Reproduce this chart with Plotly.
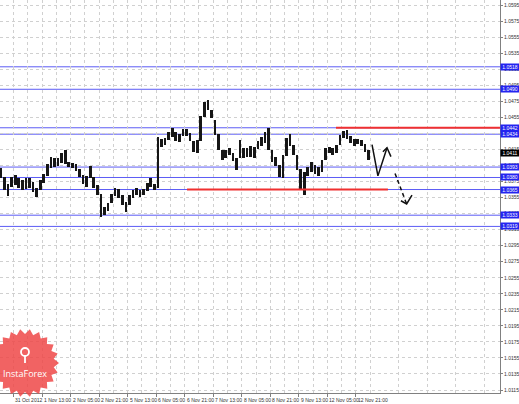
import math
import plotly.graph_objects as go

# ---------------- data ----------------
# H1 bars, index 0 = 31 Oct 21:00; one sample every 2 bars
bar_start = -7
bar_step = 2
price_high = [1.0392,1.0381,1.0372,1.0381,1.0383,1.0379,1.0377,1.0379,1.0379,1.0374,
              1.0367,1.0377,1.0384,1.0397,1.0406,1.0404,1.0404,1.0411,1.0414,1.0399,
              1.0398,1.0397,1.0391,1.0383,1.0382,1.0394,1.0381,1.0371,1.0360,1.0343,
              1.0348,1.0359,1.0367,1.0366,1.0358,1.0349,1.0358,1.0364,1.0367,1.0364,
              1.0366,1.0373,1.0379,1.0372,1.0431,1.0428,1.0429,1.0437,1.0442,1.0437,
              1.0434,1.0441,1.0441,1.0436,1.0426,1.0427,1.0457,1.0474,1.0477,1.0464,
              1.0452,1.0434,1.0414,1.0414,1.0417,1.0411,1.0404,1.0427,1.0417,1.0417,
              1.0419,1.0418,1.0426,1.0431,1.0437,1.0442,1.0414,1.0406,1.0396,1.0408,
              1.0429,1.0434,1.0421,1.0408,1.0390,1.0387,1.0393,1.0399,1.0396,1.0393,
              1.0402,1.0417,1.0418,1.0417,1.0421,1.0433,1.0438,1.0439,1.0432,1.0428,
              1.0428,1.0427,1.0422,1.0414]
price_low = [1.0379,1.0364,1.0357,1.0368,1.0371,1.0367,1.0364,1.0366,1.0367,1.0362,
             1.0356,1.0364,1.0373,1.0382,1.0392,1.0393,1.0394,1.0398,1.0397,1.0393,
             1.0392,1.0388,1.0381,1.0372,1.0368,1.0379,1.0367,1.0358,1.0331,1.0333,
             1.0338,1.0348,1.0357,1.0354,1.0346,1.0337,1.0346,1.0354,1.0358,1.0356,
             1.0358,1.0363,1.0368,1.0364,1.0367,1.0418,1.0421,1.0427,1.0431,1.0426,
             1.0424,1.0432,1.0432,1.0426,1.0412,1.0411,1.0425,1.0456,1.0464,1.0454,
             1.0433,1.0414,1.0402,1.0404,1.0408,1.0401,1.0389,1.0404,1.0404,1.0406,
             1.0406,1.0404,1.0416,1.0419,1.0423,1.0414,1.0399,1.0394,1.0381,1.0379,
             1.0407,1.0419,1.0408,1.0389,1.0364,1.0358,1.0382,1.0387,1.0384,1.0382,
             1.0387,1.0402,1.0411,1.0408,1.0411,1.0420,1.0429,1.0428,1.0423,1.0419,
             1.0422,1.0419,1.0412,1.0402]

x_tick_vals = [0, 16, 32, 48, 64, 80, 96, 112, 128, 144, 160, 176, 192]
x_tick_labels = ["31 Oct 2012", "1 Nov 13:00", "2 Nov 05:00", "2 Nov 21:00",
                 "5 Nov 13:00", "6 Nov 05:00", "6 Nov 21:00", "7 Nov 13:00",
                 "8 Nov 05:00", "8 Nov 21:00", "9 Nov 13:00", "12 Nov 05:00",
                 "12 Nov 21:00"]

blue_levels = [1.0518, 1.0490, 1.0442, 1.0434, 1.0393, 1.0380, 1.0365, 1.0333, 1.0319]
current_price = 1.0411
red_levels = [1.0442, 1.0365]
red_x_start = [180.8, 97.3]
red_x_end = [272.7, 209.9]

# hand-drawn forecast arrows (bar index, price)
zig_x = [201.0, 204.3, 209.4, None, 207.1, 209.4, 211.6]
zig_y = [1.0421, 1.0382, 1.0417, None, 1.0412, 1.0417, 1.0406]
dash_x = [213.9, 220.4]
dash_y = [1.0385, 1.0347]
dash_head_x = [217.2, 220.4, 223.4]
dash_head_y = [1.0351, 1.0347, 1.0358]

X_RANGE = [-7.54, 272.73]
Y_RANGE = [1.01113, 1.06013]

# ---------------- figure ----------------
xs = [bar_start + bar_step * k for k in range(len(price_high))]
fig = go.Figure()
fig.add_trace(go.Bar(x=xs, base=price_low,
                     y=[h - l for h, l in zip(price_high, price_low)],
                     width=1.5, marker=dict(color="#161616", line=dict(width=0)),
                     hoverinfo="skip"))
fig.add_trace(go.Scatter(x=zig_x, y=zig_y, mode="lines",
                         line=dict(color="#111111", width=1.5), hoverinfo="skip"))
fig.add_trace(go.Scatter(x=dash_x, y=dash_y, mode="lines",
                         line=dict(color="#111111", width=1.5, dash="4px,3px"), hoverinfo="skip"))
fig.add_trace(go.Scatter(x=dash_head_x, y=dash_head_y, mode="lines",
                         line=dict(color="#111111", width=1.5), hoverinfo="skip"))

shapes = []
for lv in blue_levels:
    shapes.append(dict(type="line", xref="paper", x0=0, x1=1, yref="y", y0=lv, y1=lv,
                       line=dict(color="#5c5cf5", width=1), layer="below"))
for lv, xa, xb in zip(red_levels, red_x_start, red_x_end):
    shapes.append(dict(type="line", xref="x", x0=xa, x1=xb, yref="y", y0=lv, y1=lv,
                       line=dict(color="#f03030", width=2), layer="above"))

# InstaForex logo (decoration), built in pixel space of the 500x393 plot area
PW, PH = 500.0, 393.0
cx, cy, r_out, r_in, n = 25.0, 363.0, 34.0, 29.0, 22
pts = []
for j in range(2 * n):
    r = r_out if j % 2 == 0 else r_in
    a = math.pi * j / n
    px = cx + r * math.cos(a)
    py = cy + r * math.sin(a)
    pts.append((px / PW, (PH - py) / PH))
path = "M " + " L ".join(f"{p[0]:.5f},{p[1]:.5f}" for p in pts) + " Z"
shapes.append(dict(type="path", xref="paper", yref="paper", path=path,
                   fillcolor="rgba(238,72,72,0.85)", line=dict(width=0), layer="above"))
shapes.append(dict(type="circle", xref="paper", yref="paper",
                   x0=(cx - 4) / PW, x1=(cx + 4) / PW,
                   y0=(PH - 356) / PH, y1=(PH - 348) / PH,
                   line=dict(color="white", width=1.8), layer="above"))
shapes.append(dict(type="line", xref="paper", yref="paper",
                   x0=cx / PW, x1=cx / PW, y0=(PH - 356) / PH, y1=(PH - 363) / PH,
                   line=dict(color="white", width=1.8), layer="above"))

annotations = []
for lv in blue_levels:
    annotations.append(dict(xref="paper", x=1.0, xanchor="left", yref="y", y=lv,
                            yanchor="middle", text=f"{lv:.4f}", showarrow=False,
                            font=dict(size=5, color="white", family="Liberation Sans"),
                            bgcolor="#2424f0", width=18, height=6, borderpad=0))
annotations.append(dict(xref="paper", x=1.0, xanchor="left", yref="y", y=current_price,
                        yanchor="middle", text=f"{current_price:.4f}", showarrow=False,
                        font=dict(size=5, color="white", family="Liberation Sans"),
                        bgcolor="#000000", width=18, height=6, borderpad=0))
for tv, tl in zip(x_tick_vals, x_tick_labels):
    annotations.append(dict(xref="x", x=tv, xanchor="left", yref="paper",
                            y=(PH - 399.5) / PH, yanchor="middle", text=tl, showarrow=False,
                            font=dict(size=5, color="#333333", family="Liberation Sans")))
annotations.append(dict(xref="paper", x=cx / PW, xanchor="center", yref="paper",
                        y=(PH - 373) / PH, yanchor="middle", text="InstaForex",
                        showarrow=False, font=dict(size=9, color="white", family="Open Sans")))

fig.update_layout(
    width=519, height=404,
    margin=dict(l=0, r=19, t=0, b=11, autoexpand=False),
    plot_bgcolor="white", paper_bgcolor="white",
    showlegend=False, bargap=0,
    shapes=shapes, annotations=annotations,
    xaxis=dict(range=X_RANGE, tickmode="array", tickvals=x_tick_vals,
               showticklabels=False, ticks="outside", ticklen=3, tickcolor="#808080",
               showgrid=True, gridcolor="#d0d0d0", griddash="dot", gridwidth=1,
               minor=dict(tickmode="linear", tick0=8, dtick=16, showgrid=True,
                          gridcolor="#d0d0d0", griddash="dot", ticks=""),
               showline=True, linecolor="#808080", linewidth=1, zeroline=False,
               fixedrange=True),
    yaxis=dict(range=Y_RANGE, side="right", tickmode="linear", tick0=1.0115, dtick=0.002,
               tickformat=".4f", tickfont=dict(size=5, color="#333333", family="Liberation Sans"),
               ticks="outside", ticklen=2, tickcolor="#808080",
               showgrid=True, gridcolor="#d0d0d0", griddash="dot", gridwidth=1,
               showline=True, linecolor="#808080", linewidth=1, zeroline=False,
               fixedrange=True),
)

fig.write_html("out.html", config={"displayModeBar": False},
               post_script="document.body.style.margin='0';document.body.style.padding='0';"
                           "document.documentElement.style.overflow='hidden';")
